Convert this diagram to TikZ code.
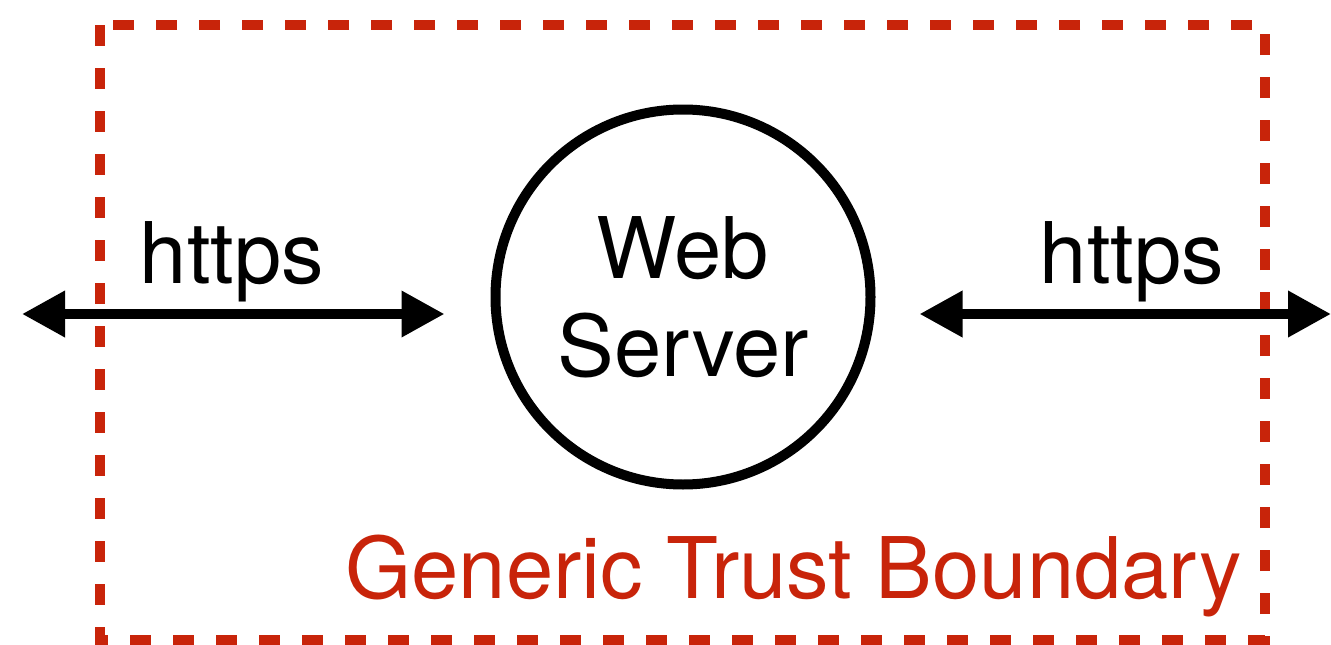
\documentclass[tikz,border=0pt]{standalone}
\usepackage{fontspec}
\setmainfont{TeX Gyre Heros}
\usetikzlibrary{arrows.meta}
\usetikzlibrary{positioning}
\definecolor{boundaryred}{RGB}{200,36,10}

\begin{document}
\begin{tikzpicture}[x=1pt, y=-1pt,
  flow/.style={line width=10pt, {Triangle[length=43pt,width=44pt]}-{Triangle[length=43pt,width=44pt]}},
  txt/.style={font=\fontsize{85}{98}\selectfont, inner sep=0pt, anchor=base}]
  \useasboundingbox (0,0) rectangle (1331,645);

  % Boundary
  \draw[boundaryred, line width=10pt, dash pattern=on 21pt off 22pt] (100,25) rectangle (1265,640);
  \node[txt, text=boundaryred, anchor=base east] (tb) at (1242,598) {Generic Trust Boundary};

  % Server
  \node[circle, draw, line width=10pt, minimum size=375pt, inner sep=0pt,
        align=center, font=\fontsize{85}{98}\selectfont] (server) at (683,297) {Web\\Server};

  % Connections
  \coordinate (client) at (22,314);
  \coordinate (backend) at (1331,314);
  \draw[flow, shorten >=46pt] (client) -- (server.west |- client);
  \draw[flow, shorten <=44pt] (server.east |- backend) -- (backend);

  % Labels
  \node[txt] (lhttps) at (232,283) {https};
  \node[txt] (rhttps) at (1132,283) {https};
\end{tikzpicture}
\end{document}
